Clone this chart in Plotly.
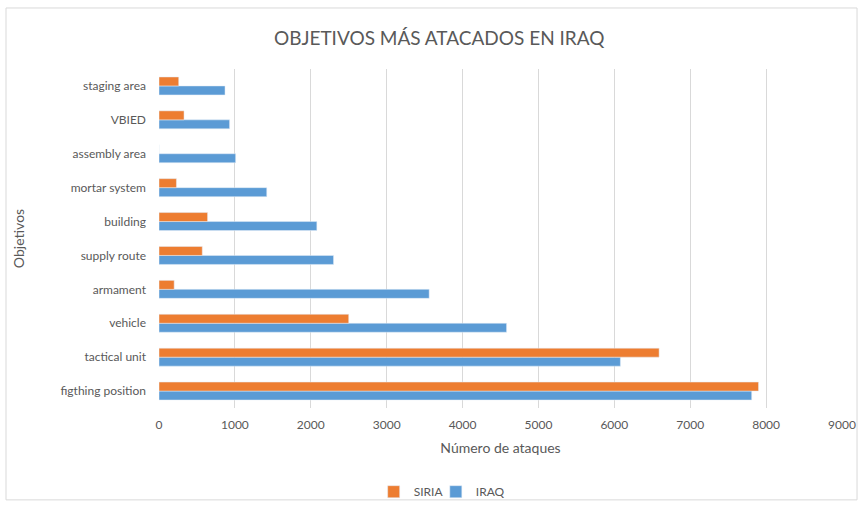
"""Horizontal grouped bar chart: most attacked targets, Iraq vs Syria."""

import plotly.graph_objects as go

CATEGORIES = [
    "figthing position",
    "tactical unit",
    "vehicle",
    "armament",
    "supply route",
    "building",
    "mortar system",
    "assembly area",
    "VBIED",
    "staging area",
]
IRAQ = [7810, 6080, 4580, 3560, 2300, 2080, 1420, 1010, 930, 870]
SIRIA = [7900, 6590, 2500, 200, 570, 640, 230, 0, 330, 260]
X_TICKS = [0, 1000, 2000, 3000, 4000, 5000, 6000, 7000, 8000, 9000]

ORANGE = "#ED7D31"
BLUE = "#5B9BD5"
TEXT = "#595959"
FONT = "Lato, 'Open Sans', sans-serif"

fig = go.Figure()
fig.add_trace(go.Bar(y=CATEGORIES, x=IRAQ, name="IRAQ", orientation="h",
                     marker=dict(color=BLUE), legend="legend2", showlegend=True))
fig.add_trace(go.Bar(y=CATEGORIES, x=SIRIA, name="SIRIA", orientation="h",
                     marker=dict(color=ORANGE), legend="legend", showlegend=True))

legend_style = dict(orientation="h", xref="container", xanchor="left",
                    yref="container", y=0.034, yanchor="middle", visible=True,
                    font=dict(size=12), bgcolor="rgba(0,0,0,0)")

fig.update_layout(
    width=863,
    height=509,
    showlegend=True,
    barmode="group",
    bargap=0.47,
    bargroupgap=0,
    paper_bgcolor="white",
    plot_bgcolor="white",
    font=dict(family=FONT, color=TEXT, size=12),
    margin=dict(l=159, r=21, t=69, b=101, autoexpand=False),
    title=dict(text="OBJETIVOS MÁS ATACADOS EN IRAQ", x=0.509, xanchor="center",
               y=0.925, yanchor="middle", font=dict(size=19, color=TEXT)),
    xaxis=dict(range=[0, 9000], tickvals=X_TICKS, showgrid=True, gridcolor="#D9D9D9",
               gridwidth=1, zeroline=False, showline=False, ticks="",
               ticklabelstandoff=8, automargin=False,
               title=dict(text="Número de ataques", font=dict(size=14), standoff=12),
               tickfont=dict(size=12)),
    yaxis=dict(categoryorder="array", categoryarray=CATEGORIES, showgrid=False,
               zeroline=False, showline=False, ticks="", ticklabelstandoff=12,
               automargin=False,
               title=dict(text="Objetivos", font=dict(size=14), standoff=32),
               tickfont=dict(size=12)),
    legend=dict(legend_style, x=0.433),
    legend2=dict(legend_style, x=0.505),
    shapes=[dict(type="rect", xref="paper", yref="paper",
                 x0=-0.224, x1=1.022, y0=-0.271, y1=1.18,
                 line=dict(color="#D9D9D9", width=1), layer="below")],
)

fig.write_html("out.html", config={"displayModeBar": False},
               post_script="document.body.style.margin='0';")
